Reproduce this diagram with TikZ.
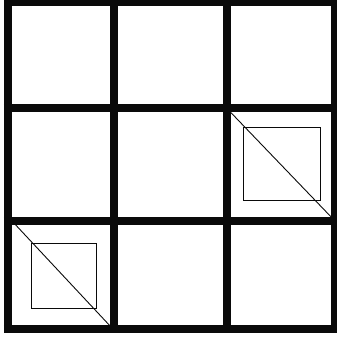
\documentclass[tikz,border=0pt]{standalone}
\definecolor{ink}{HTML}{0A0A0A}

\begin{document}
\begin{tikzpicture}[x=1pt,y=-1pt,
  gridline/.style={ink,line width=8pt},
  thinline/.style={ink,line width=0.9pt}]
  \useasboundingbox (0,0) rectangle (337,341);
  \clip (0,0) rectangle (337,341);

  % marked cells: inner square and corner-to-corner diagonal
  \draw[thinline] (243,127) rectangle (320,200.5);
  \draw[thinline] (226.5,108) -- (335,221);
  \draw[thinline] (31,243.5) rectangle (96.5,308);
  \draw[thinline] (12,221) -- (112,328);

  % the 3x3 grid
  \foreach \x in {8,113.5,226.5,335} {
    \draw[gridline] (\x,-3) -- (\x,333);
  }
  \foreach \y in {1.5,108,221,329} {
    \draw[gridline] (4,\y) -- (339,\y);
  }
\end{tikzpicture}
\end{document}
